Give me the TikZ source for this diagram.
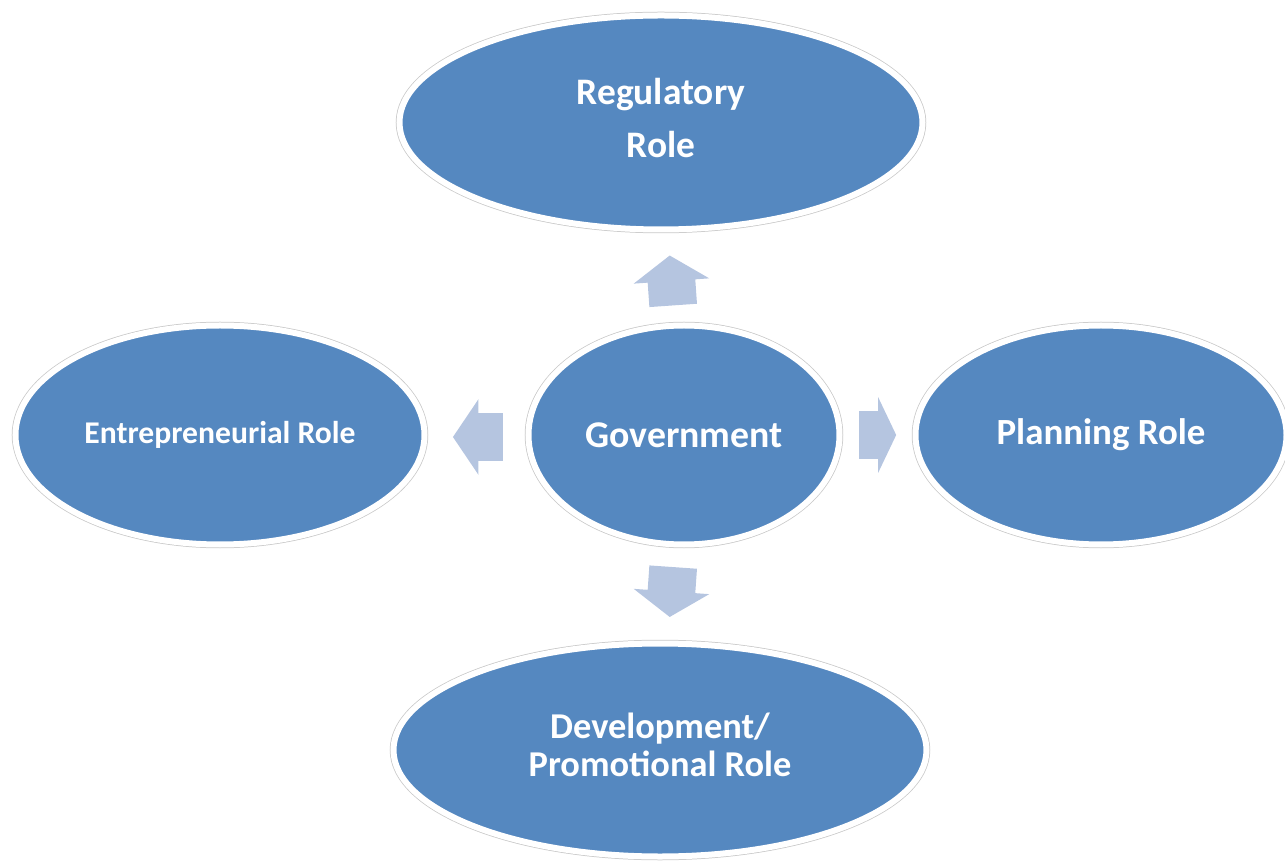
\documentclass[tikz,border=0pt]{standalone}
\usepackage{fontspec}
\setmainfont{Carlito}
\usepackage{xcolor}
\usetikzlibrary{shapes,shapes.arrows}
\usetikzlibrary{positioning}

\definecolor{roleblue}{RGB}{85,136,192}
\definecolor{arrowblue}{RGB}{181,197,224}
\definecolor{rimgray}{RGB}{200,200,200}

\begin{document}
\begin{tikzpicture}[role/.style={ellipse,fill=roleblue,draw=white,line width=0.12cm,preaction={draw=rimgray,line width=0.15cm},inner sep=0pt,outer sep=0pt,text=white,align=center},flow/.style={single arrow,fill=arrowblue,draw=none,inner xsep=0pt,inner ysep=0.47cm,minimum width=1.5cm,minimum height=1cm,single arrow head extend=0.28cm,single arrow tip angle=112}]

    \useasboundingbox (-13.68,-8.54) rectangle (12.02,8.70);

    \node[role,minimum width=6.22cm,minimum height=4.38cm,font=\bfseries\fontsize{21.5}{25}\selectfont] (gov) at (0,0) {Government};

    \node[role,minimum width=10.46cm,minimum height=4.28cm,above=1.92cm of gov,xshift=-0.46cm,text depth=0.2cm,font=\bfseries\fontsize{21.3}{30.2}\selectfont] (reg) {Regulatory\\Role};
    \node[role,minimum width=8.18cm,minimum height=4.38cm,left=2.08cm of gov,font=\bfseries\fontsize{18}{22}\selectfont] (ent) {Entrepreneurial Role};
    \node[role,minimum width=7.42cm,minimum height=4.38cm,right=1.52cm of gov,font=\bfseries\fontsize{21}{25}\selectfont] (plan) {Planning Role};
    \node[role,minimum width=10.66cm,minimum height=4.26cm,below=1.98cm of gov,xshift=-0.48cm,text depth=0.2cm,font=\bfseries\fontsize{20.7}{21.6}\selectfont] (dev) {Development/\\Promotional Role};

    % block arrows out of the centre
    \node[flow,rotate=94] (aReg) at ([shift={(-0.24,0.74)}]gov.north) {};
    \node[flow,rotate=180] (aEnt) at ([shift={(-0.85,-0.04)}]gov.west) {};
    \node[flow,minimum height=0.74cm,single arrow tip angle=129] (aPlan) at ([shift={(0.65,0)}]gov.east) {};
    \node[flow,rotate=-94] (aDev) at ([shift={(-0.24,-0.79)}]gov.south) {};

\end{tikzpicture}
\end{document}
